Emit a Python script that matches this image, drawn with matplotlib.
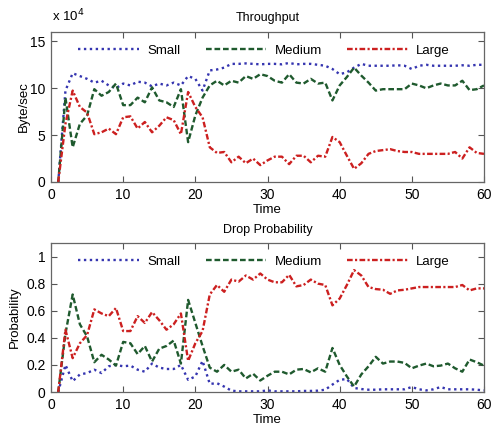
import matplotlib
matplotlib.use("Agg")
import matplotlib.pyplot as plt
from matplotlib.ticker import FuncFormatter

plt.rcParams['font.family'] = ['Liberation Sans', 'DejaVu Sans']

time = list(range(1, 61))

thr_small = [0, 9.75, 11.6, 11.3, 11.0, 10.6, 10.8, 10.3, 10.0, 10.5,
             10.3, 10.7, 10.6, 10.2, 10.5, 10.3, 10.6, 10.3, 11.3, 11.0,
             9.75, 11.9, 12.0, 12.2, 12.6, 12.6, 12.65, 12.6, 12.55, 12.6,
             12.6, 12.55, 12.7, 12.55, 12.6, 12.6, 12.5, 12.4, 12.05, 11.5,
             11.7, 12.2, 12.6, 12.4, 12.4, 12.4, 12.4, 12.45, 12.4, 12.05,
             12.4, 12.5, 12.4, 12.4, 12.4, 12.4, 12.45, 12.4, 12.5, 12.5]
thr_medium = [0, 9.0, 3.7, 6.2, 7.1, 9.9, 9.2, 9.6, 10.5, 8.2,
              8.2, 9.0, 8.5, 10.1, 8.7, 8.5, 8.0, 9.9, 4.25, 7.1,
              9.0, 10.3, 10.8, 10.3, 10.8, 10.6, 11.3, 11.0, 11.5, 11.3,
              10.8, 10.6, 11.5, 10.6, 10.5, 11.0, 10.5, 10.6, 8.7, 10.3,
              11.2, 12.2, 11.35, 10.6, 9.75, 9.9, 9.9, 9.9, 9.9, 10.5,
              10.3, 10.0, 10.3, 10.5, 10.3, 10.3, 10.8, 9.8, 9.9, 10.3]
thr_large = [0, 6.2, 9.75, 8.0, 7.4, 5.1, 5.3, 5.7, 5.1, 6.9,
             7.0, 5.7, 6.4, 5.3, 6.0, 6.9, 6.6, 5.1, 9.6, 8.0,
             6.9, 3.7, 3.1, 3.2, 2.1, 2.7, 2.0, 2.5, 1.8, 2.3,
             2.7, 2.7, 1.9, 2.8, 2.8, 2.1, 2.8, 2.7, 4.8, 4.25,
             2.8, 1.4, 2.0, 3.0, 3.3, 3.4, 3.5, 3.3, 3.2, 3.2,
             3.0, 3.0, 3.0, 3.0, 3.0, 3.2, 2.5, 3.7, 3.1, 3.0]

drop_small = [0, 0.20, 0.08, 0.13, 0.14, 0.165, 0.14, 0.19, 0.20, 0.19,
              0.195, 0.165, 0.15, 0.21, 0.18, 0.17, 0.17, 0.20, 0.09, 0.115,
              0.23, 0.06, 0.065, 0.04, 0.01, 0.005, 0.005, 0.005, 0.005, 0.012,
              0.005, 0.005, 0.005, 0.005, 0.008, 0.008, 0.01, 0.017, 0.055, 0.09,
              0.096, 0.03, 0.022, 0.017, 0.017, 0.02, 0.02, 0.02, 0.02, 0.037,
              0.02, 0.012, 0.02, 0.037, 0.02, 0.02, 0.02, 0.02, 0.017, 0.012]
drop_medium = [0, 0.43, 0.72, 0.50, 0.41, 0.22, 0.275, 0.24, 0.195, 0.37,
               0.36, 0.28, 0.34, 0.225, 0.32, 0.34, 0.38, 0.21, 0.68, 0.51,
               0.34, 0.18, 0.15, 0.20, 0.15, 0.165, 0.10, 0.135, 0.085, 0.12,
               0.15, 0.15, 0.13, 0.165, 0.17, 0.145, 0.175, 0.15, 0.325, 0.20,
               0.115, 0.04, 0.13, 0.19, 0.26, 0.21, 0.225, 0.225, 0.215, 0.175,
               0.195, 0.21, 0.19, 0.195, 0.21, 0.175, 0.15, 0.24, 0.22, 0.195]
drop_large = [0, 0.46, 0.25, 0.36, 0.42, 0.61, 0.58, 0.56, 0.62, 0.45,
              0.45, 0.56, 0.51, 0.59, 0.53, 0.46, 0.50, 0.58, 0.23, 0.36,
              0.45, 0.72, 0.79, 0.74, 0.83, 0.815, 0.86, 0.83, 0.875, 0.83,
              0.81, 0.81, 0.865, 0.78, 0.79, 0.83, 0.80, 0.79, 0.64, 0.69,
              0.79, 0.90, 0.86, 0.775, 0.76, 0.755, 0.725, 0.75, 0.755, 0.765,
              0.775, 0.775, 0.775, 0.775, 0.775, 0.775, 0.79, 0.75, 0.765, 0.765]

thr_scale = 1e4
series_names = ['Small', 'Medium', 'Large']
colors = ['#3535b0', '#1f5a2e', '#cc2020']
styles = [(0, (1, 1.5)), (0, (2.4, 1.2)), (0, (2.4, 1.0, 0.9, 1.0))]

fig = plt.figure(figsize=(4.92, 4.25), dpi=100)
ax1 = fig.add_axes([0.1037, 0.5718, 0.8800, 0.3529])
ax2 = fig.add_axes([0.1037, 0.0776, 0.8800, 0.3506])

thr = [[v * thr_scale for v in s] for s in (thr_small, thr_medium, thr_large)]
drp = [drop_small, drop_medium, drop_large]

for ax, data in ((ax1, thr), (ax2, drp)):
    for name, vals, c, ls in zip(series_names, data, colors, styles):
        ax.plot(time, vals, color=c, linestyle=ls, linewidth=1.7, label=name)
    ax.set_xlim(0, 60)
    ax.set_xticks([0, 10, 20, 30, 40, 50, 60])
    ax.tick_params(direction='in', top=True, right=True, length=4,
                   labelsize=10, color='#555555', pad=4)
    for sp in ax.spines.values():
        sp.set_color('#666666')
        sp.set_linewidth(0.9)
    ax.set_xlabel('Time', fontsize=9.5, labelpad=2)
    ax.legend(loc='upper center', bbox_to_anchor=(0.492, 1.0), ncol=3,
              frameon=False, fontsize=9.5, handlelength=4.6,
              handletextpad=0.6, columnspacing=1.95, borderaxespad=0.55)

ax1.set_ylim(0, 16e4)
ax1.set_yticks([0, 5e4, 10e4, 15e4])
ax1.yaxis.set_major_formatter(FuncFormatter(lambda v, p: f"{v / thr_scale:g}"))
ax1.set_ylabel('Byte/sec', fontsize=9.5, labelpad=0)
ax1.set_title('Throughput', fontsize=9, pad=8)
fig.text(0.105, 0.942, r'x 10$^4$', fontsize=9.5, ha='left', va='bottom')

ax2.set_ylim(0, 1.1)
ax2.set_yticks([0, 0.2, 0.4, 0.6, 0.8, 1.0])
ax2.yaxis.set_major_formatter(FuncFormatter(lambda v, p: f"{v:g}"))
ax2.set_ylabel('Probability', fontsize=9.5, labelpad=3.5)
ax2.set_title('Drop Probability', fontsize=9, pad=7)

fig.savefig('out.png', dpi=100)
